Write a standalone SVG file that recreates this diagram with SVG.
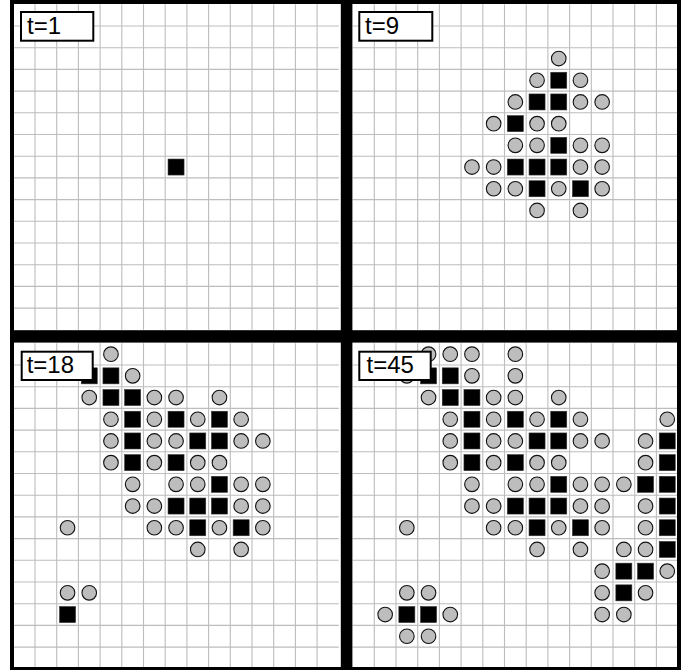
<svg xmlns="http://www.w3.org/2000/svg" xmlns:xlink="http://www.w3.org/1999/xlink" width="689" height="670" viewBox="0 0 689 670">
<style>
.grid{fill:none;stroke:#bdbdbd;stroke-width:1.1}
.bd{fill:#000}
.lab{fill:#fff;stroke:#000;stroke-width:2}
.lt{font-family:"Liberation Sans",Arial,sans-serif;font-size:24px;fill:#000}
</style>
<defs>
<path id="g" class="grid" d="M21.7 0V325.5M43.4 0V325.5M65.1 0V325.5M86.8 0V325.5M108.5 0V325.5M130.2 0V325.5M151.9 0V325.5M173.6 0V325.5M195.3 0V325.5M217 0V325.5M238.7 0V325.5M260.4 0V325.5M282.1 0V325.5M303.8 0V325.5M0 21.7H325.5M0 43.4H325.5M0 65.1H325.5M0 86.8H325.5M0 108.5H325.5M0 130.2H325.5M0 151.9H325.5M0 173.6H325.5M0 195.3H325.5M0 217H325.5M0 238.7H325.5M0 260.4H325.5M0 282.1H325.5M0 303.8H325.5"/>
<rect id="b" x="-8" y="-8" width="16" height="16" fill="#000" stroke="#333" stroke-width="0.6"/>
<circle id="c" cx="0" cy="0" r="7.3" fill="#bdbdbd" stroke="#111" stroke-width="1.1"/>
</defs>
<rect width="689" height="670" fill="#fff"/>

<g id="panel-t1" transform="translate(13.3,4.3)">
<use href="#g"/>
<use href="#b" x="162.75" y="162.75"/>
</g>

<g id="panel-t9" transform="translate(352.6,4.3)">
<use href="#g"/>
<use href="#c" x="206.15" y="54.25"/>
<use href="#c" x="184.45" y="75.95"/><use href="#b" x="206.15" y="75.95"/><use href="#c" x="227.85" y="75.95"/>
<use href="#c" x="162.75" y="97.65"/><use href="#b" x="184.45" y="97.65"/><use href="#b" x="206.15" y="97.65"/><use href="#c" x="227.85" y="97.65"/><use href="#c" x="249.55" y="97.65"/>
<use href="#c" x="141.05" y="119.35"/><use href="#b" x="162.75" y="119.35"/><use href="#c" x="184.45" y="119.35"/><use href="#c" x="206.15" y="119.35"/>
<use href="#c" x="162.75" y="141.05"/><use href="#c" x="184.45" y="141.05"/><use href="#b" x="206.15" y="141.05"/><use href="#c" x="227.85" y="141.05"/><use href="#c" x="249.55" y="141.05"/>
<use href="#c" x="119.35" y="162.75"/><use href="#c" x="141.05" y="162.75"/><use href="#b" x="162.75" y="162.75"/><use href="#b" x="184.45" y="162.75"/><use href="#b" x="206.15" y="162.75"/><use href="#c" x="227.85" y="162.75"/><use href="#c" x="249.55" y="162.75"/>
<use href="#c" x="141.05" y="184.45"/><use href="#c" x="162.75" y="184.45"/><use href="#b" x="184.45" y="184.45"/><use href="#c" x="206.15" y="184.45"/><use href="#b" x="227.85" y="184.45"/><use href="#c" x="249.55" y="184.45"/>
<use href="#c" x="184.45" y="206.15"/><use href="#c" x="227.85" y="206.15"/>
</g>

<g id="panel-t18" transform="translate(13.3,343.3)">
<use href="#g"/>
<use href="#c" x="97.65" y="10.85"/>
<use href="#b" x="75.95" y="32.55"/><use href="#b" x="97.65" y="32.55"/><use href="#c" x="119.35" y="32.55"/>
<use href="#c" x="75.95" y="54.25"/><use href="#b" x="97.65" y="54.25"/><use href="#b" x="119.35" y="54.25"/><use href="#c" x="141.05" y="54.25"/><use href="#c" x="162.75" y="54.25"/><use href="#c" x="206.15" y="54.25"/>
<use href="#c" x="97.65" y="75.95"/><use href="#b" x="119.35" y="75.95"/><use href="#c" x="141.05" y="75.95"/><use href="#b" x="162.75" y="75.95"/><use href="#c" x="184.45" y="75.95"/><use href="#b" x="206.15" y="75.95"/><use href="#c" x="227.85" y="75.95"/>
<use href="#c" x="97.65" y="97.65"/><use href="#b" x="119.35" y="97.65"/><use href="#c" x="141.05" y="97.65"/><use href="#c" x="162.75" y="97.65"/><use href="#b" x="184.45" y="97.65"/><use href="#b" x="206.15" y="97.65"/><use href="#c" x="227.85" y="97.65"/><use href="#c" x="249.55" y="97.65"/>
<use href="#c" x="97.65" y="119.35"/><use href="#b" x="119.35" y="119.35"/><use href="#c" x="141.05" y="119.35"/><use href="#b" x="162.75" y="119.35"/><use href="#c" x="184.45" y="119.35"/><use href="#c" x="206.15" y="119.35"/>
<use href="#c" x="119.35" y="141.05"/><use href="#c" x="162.75" y="141.05"/><use href="#c" x="184.45" y="141.05"/><use href="#b" x="206.15" y="141.05"/><use href="#c" x="227.85" y="141.05"/><use href="#c" x="249.55" y="141.05"/>
<use href="#c" x="119.35" y="162.75"/><use href="#c" x="141.05" y="162.75"/><use href="#b" x="162.75" y="162.75"/><use href="#b" x="184.45" y="162.75"/><use href="#b" x="206.15" y="162.75"/><use href="#c" x="227.85" y="162.75"/><use href="#c" x="249.55" y="162.75"/>
<use href="#c" x="54.25" y="184.45"/><use href="#c" x="141.05" y="184.45"/><use href="#c" x="162.75" y="184.45"/><use href="#b" x="184.45" y="184.45"/><use href="#c" x="206.15" y="184.45"/><use href="#b" x="227.85" y="184.45"/><use href="#c" x="249.55" y="184.45"/>
<use href="#c" x="184.45" y="206.15"/><use href="#c" x="227.85" y="206.15"/>
<use href="#c" x="54.25" y="249.55"/><use href="#c" x="75.95" y="249.55"/>
<use href="#b" x="54.25" y="271.25"/>
</g>

<g id="panel-t45" transform="translate(352.6,343.3)">
<use href="#g"/>
<use href="#c" x="75.95" y="10.85"/><use href="#c" x="97.65" y="10.85"/><use href="#c" x="119.35" y="10.85"/><use href="#c" x="162.75" y="10.85"/>
<use href="#c" x="54.25" y="32.55"/><use href="#b" x="75.95" y="32.55"/><use href="#b" x="97.65" y="32.55"/><use href="#c" x="119.35" y="32.55"/><use href="#c" x="162.75" y="32.55"/>
<use href="#c" x="75.95" y="54.25"/><use href="#b" x="97.65" y="54.25"/><use href="#b" x="119.35" y="54.25"/><use href="#c" x="141.05" y="54.25"/><use href="#c" x="162.75" y="54.25"/><use href="#c" x="206.15" y="54.25"/>
<use href="#c" x="97.65" y="75.95"/><use href="#b" x="119.35" y="75.95"/><use href="#c" x="141.05" y="75.95"/><use href="#b" x="162.75" y="75.95"/><use href="#c" x="184.45" y="75.95"/><use href="#b" x="206.15" y="75.95"/><use href="#c" x="227.85" y="75.95"/><use href="#c" x="314.65" y="75.95"/>
<use href="#c" x="97.65" y="97.65"/><use href="#b" x="119.35" y="97.65"/><use href="#c" x="141.05" y="97.65"/><use href="#c" x="162.75" y="97.65"/><use href="#b" x="184.45" y="97.65"/><use href="#b" x="206.15" y="97.65"/><use href="#c" x="227.85" y="97.65"/><use href="#c" x="249.55" y="97.65"/><use href="#c" x="292.95" y="97.65"/><use href="#b" x="314.65" y="97.65"/>
<use href="#c" x="97.65" y="119.35"/><use href="#b" x="119.35" y="119.35"/><use href="#c" x="141.05" y="119.35"/><use href="#b" x="162.75" y="119.35"/><use href="#c" x="184.45" y="119.35"/><use href="#c" x="206.15" y="119.35"/><use href="#c" x="292.95" y="119.35"/><use href="#b" x="314.65" y="119.35"/>
<use href="#c" x="119.35" y="141.05"/><use href="#c" x="162.75" y="141.05"/><use href="#c" x="184.45" y="141.05"/><use href="#b" x="206.15" y="141.05"/><use href="#c" x="227.85" y="141.05"/><use href="#c" x="249.55" y="141.05"/><use href="#c" x="271.25" y="141.05"/><use href="#b" x="292.95" y="141.05"/><use href="#b" x="314.65" y="141.05"/>
<use href="#c" x="119.35" y="162.75"/><use href="#c" x="141.05" y="162.75"/><use href="#b" x="162.75" y="162.75"/><use href="#b" x="184.45" y="162.75"/><use href="#b" x="206.15" y="162.75"/><use href="#c" x="227.85" y="162.75"/><use href="#c" x="249.55" y="162.75"/><use href="#c" x="292.95" y="162.75"/><use href="#b" x="314.65" y="162.75"/>
<use href="#c" x="54.25" y="184.45"/><use href="#c" x="141.05" y="184.45"/><use href="#c" x="162.75" y="184.45"/><use href="#b" x="184.45" y="184.45"/><use href="#c" x="206.15" y="184.45"/><use href="#b" x="227.85" y="184.45"/><use href="#c" x="249.55" y="184.45"/><use href="#c" x="292.95" y="184.45"/><use href="#b" x="314.65" y="184.45"/>
<use href="#c" x="184.45" y="206.15"/><use href="#c" x="227.85" y="206.15"/><use href="#c" x="271.25" y="206.15"/><use href="#c" x="292.95" y="206.15"/><use href="#b" x="314.65" y="206.15"/>
<use href="#c" x="249.55" y="227.85"/><use href="#b" x="271.25" y="227.85"/><use href="#b" x="292.95" y="227.85"/><use href="#c" x="314.65" y="227.85"/>
<use href="#c" x="54.25" y="249.55"/><use href="#c" x="75.95" y="249.55"/><use href="#c" x="249.55" y="249.55"/><use href="#b" x="271.25" y="249.55"/><use href="#c" x="292.95" y="249.55"/>
<use href="#c" x="32.55" y="271.25"/><use href="#b" x="54.25" y="271.25"/><use href="#b" x="75.95" y="271.25"/><use href="#c" x="97.65" y="271.25"/><use href="#c" x="249.55" y="271.25"/><use href="#c" x="271.25" y="271.25"/>
<use href="#c" x="54.25" y="292.95"/><use href="#c" x="75.95" y="292.95"/>
</g>

<g id="frame">
<rect class="bd" x="10" y="0" width="4" height="670"/>
<rect class="bd" x="677" y="0" width="4" height="670"/>
<rect class="bd" x="10" y="0" width="671" height="4"/>
<rect class="bd" x="10" y="667" width="671" height="3"/>
<rect class="bd" x="340.8" y="0" width="11.6" height="670"/>
<rect class="bd" x="10" y="330.2" width="671" height="12.4"/>
</g>

<g id="labels">
<rect class="lab" x="21" y="12" width="72.3" height="28.7"/>
<text class="lt" x="27" y="34">t=1</text>
<rect class="lab" x="359.3" y="12" width="73" height="28.7"/>
<text class="lt" x="365" y="34">t=9</text>
<rect class="lab" x="21.7" y="351.7" width="71" height="28.3"/>
<text class="lt" x="26.7" y="372.5">t=18</text>
<rect class="lab" x="359.3" y="351.7" width="71.4" height="28.3"/>
<text class="lt" x="366.5" y="372.5">t=45</text>
</g>
</svg>
